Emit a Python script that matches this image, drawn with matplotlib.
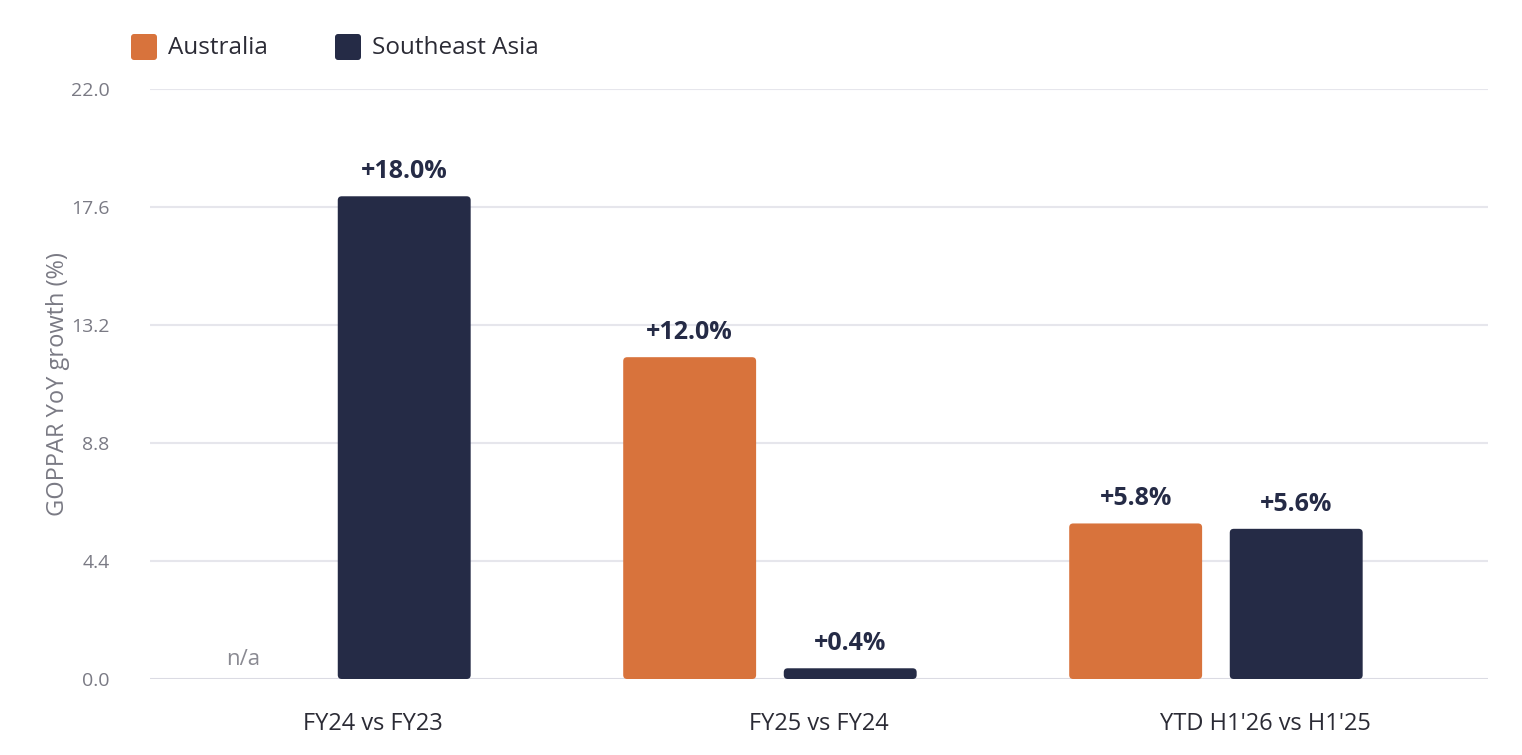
import matplotlib
matplotlib.use("Agg")
import matplotlib.pyplot as plt
from matplotlib.patches import FancyBboxPatch
import numpy as np

categories = ["FY24 vs FY23", "FY25 vs FY24", "YTD H1'26 vs H1'25"]
australia = [None, 12.0, 5.8]
southeast_asia = [18.0, 0.4, 5.6]
aus_labels = ["n/a", "+12.0%", "+5.8%"]
sea_labels = ["+18.0%", "+0.4%", "+5.6%"]
yticks = [0.0, 4.4, 8.8, 13.2, 17.6, 22.0]

ORANGE = "#D8733C"
NAVY = "#252B46"
GRID = "#E6E6EC"
TICK = "#7A7A84"

plt.rcParams['font.family'] = ['Open Sans', 'DejaVu Sans']

fig = plt.figure(figsize=(15.22, 7.55), dpi=100)
ax = fig.add_axes([150/1522, 1-679/755, 1338/1522, 590/755])

x = np.arange(len(categories)) + 0.5
w = 0.298
aus_off = -0.29
sea_off = 0.07

aus_vals = [v if v is not None else 0 for v in australia]
b1 = ax.bar(x + aus_off, aus_vals, w, color=ORANGE, zorder=3)
b2 = ax.bar(x + sea_off, southeast_asia, w, color=NAVY, zorder=3)

ax.set_xlim(0, 3)
ax.set_ylim(0, 22)

asp = (22/590) / (3/1338)
r = 4 * 3/1338
for bars, col in ((b1, ORANGE), (b2, NAVY)):
    for b in bars:
        b.set_visible(False)
        h = b.get_height()
        if h <= 0:
            continue
        p = FancyBboxPatch((b.get_x(), b.get_y()), b.get_width(), h,
                           boxstyle=f"round,pad=0,rounding_size={r}",
                           mutation_aspect=asp, facecolor=col, edgecolor='none', zorder=3)
        ax.add_patch(p)

for i, b in enumerate(b1):
    if australia[i] is None:
        ax.text(b.get_x() + b.get_width()/2, 0.35, aus_labels[i], ha='center', va='bottom',
                fontsize=16, color="#8A8A92")
    else:
        ax.text(b.get_x() + b.get_width()/2, australia[i] + 0.45, aus_labels[i], ha='center',
                va='bottom', fontsize=18, fontweight='bold', color=NAVY)
for i, b in enumerate(b2):
    ax.text(b.get_x() + b.get_width()/2, southeast_asia[i] + 0.45, sea_labels[i], ha='center',
            va='bottom', fontsize=18, fontweight='bold', color=NAVY)

ax.set_yticks(yticks)
ax.set_yticklabels([f"{t:.1f}" for t in yticks])
ax.set_xticks(x)
ax.set_xticklabels(categories)
ax.tick_params(axis='y', length=0, pad=29, labelsize=14, labelcolor=TICK)
ax.tick_params(axis='x', length=0, pad=24, labelsize=17, labelcolor="#2B2B35")
ax.grid(axis='y', color=GRID, linewidth=1.5, zorder=0)
ax.axhline(0, color="#DADAE2", linewidth=2, zorder=2)
for s in ax.spines.values():
    s.set_visible(False)
ax.set_ylabel("GOPPAR YoY growth (%)", fontsize=17, color=TICK)
ax.yaxis.set_label_coords(-(150-70)/1338, 0.5)

# legend
for (xp, lab, col) in ((131, "Australia", ORANGE), (335, "Southeast Asia", NAVY)):
    fig.patches.append(FancyBboxPatch((xp/1522, 1-60/755), 26/1522, 26/755,
                                      boxstyle="round,pad=0,rounding_size=0.002",
                                      mutation_aspect=1522/755,
                                      transform=fig.transFigure, facecolor=col,
                                      edgecolor='none'))
    fig.text((xp+37)/1522, 1-48/755, lab, fontsize=17.5, color="#2B2B35", va='center', ha='left')

fig.savefig("out.png", dpi=100)
